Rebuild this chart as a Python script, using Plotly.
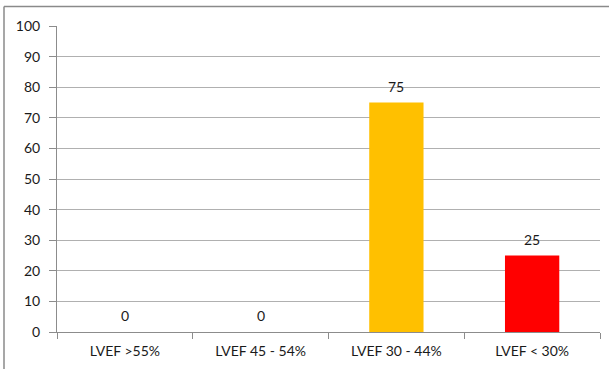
import plotly.graph_objects as go

categories = ["LVEF >55%", "LVEF 45 - 54%", "LVEF 30 - 44%", "LVEF < 30%"]
values = [0, 0, 75, 25]
colors = ["#4F81BD", "#4F81BD", "#FFC000", "#FF0000"]

W, H = 609, 369
L, R, T, B = 57, 9, 26, 37
pw, ph = W - L - R, H - T - B

font = dict(family="Lato, Open Sans, sans-serif", size=14, color="#1a1a1a")

fig = go.Figure()
fig.add_trace(go.Bar(x=categories, y=values, marker=dict(color=colors, line=dict(width=0)),
                     width=0.4, hoverinfo="skip"))

for c, v in zip(categories, values):
    fig.add_annotation(x=c, y=v, text=str(v), showarrow=False, yanchor="bottom",
                       yshift=6, font=font)

def px_x(p):
    return (p - L) / pw

def px_y(p):
    return (H - B - p) / ph

border = dict(color="#8a8a8a", width=1.5)
fig.add_shape(type="line", xref="paper", yref="paper",
              x0=px_x(4), x1=px_x(4), y0=px_y(369), y1=px_y(6.5), line=border)
fig.add_shape(type="line", xref="paper", yref="paper",
              x0=px_x(4), x1=px_x(609), y0=px_y(6.5), y1=px_y(6.5), line=border)

fig.update_layout(
    width=W, height=H,
    margin=dict(l=L, r=R, t=T, b=B),
    paper_bgcolor="white", plot_bgcolor="white",
    showlegend=False, font=font,
    xaxis=dict(showline=True, linecolor="#8c8c8c", linewidth=1,
               ticks="outside", tickson="boundaries", ticklen=6, tickcolor="#8c8c8c",
               showgrid=False, tickfont=font, ticklabelstandoff=6),
    yaxis=dict(range=[0, 100], dtick=10, showline=True, linecolor="#8c8c8c", linewidth=1,
               ticks="outside", ticklen=7, tickcolor="#8c8c8c",
               showgrid=True, gridcolor="#b0b0b0", gridwidth=1, zeroline=False,
               tickfont=font, ticklabelstandoff=6),
)

fig.write_html("out.html")
